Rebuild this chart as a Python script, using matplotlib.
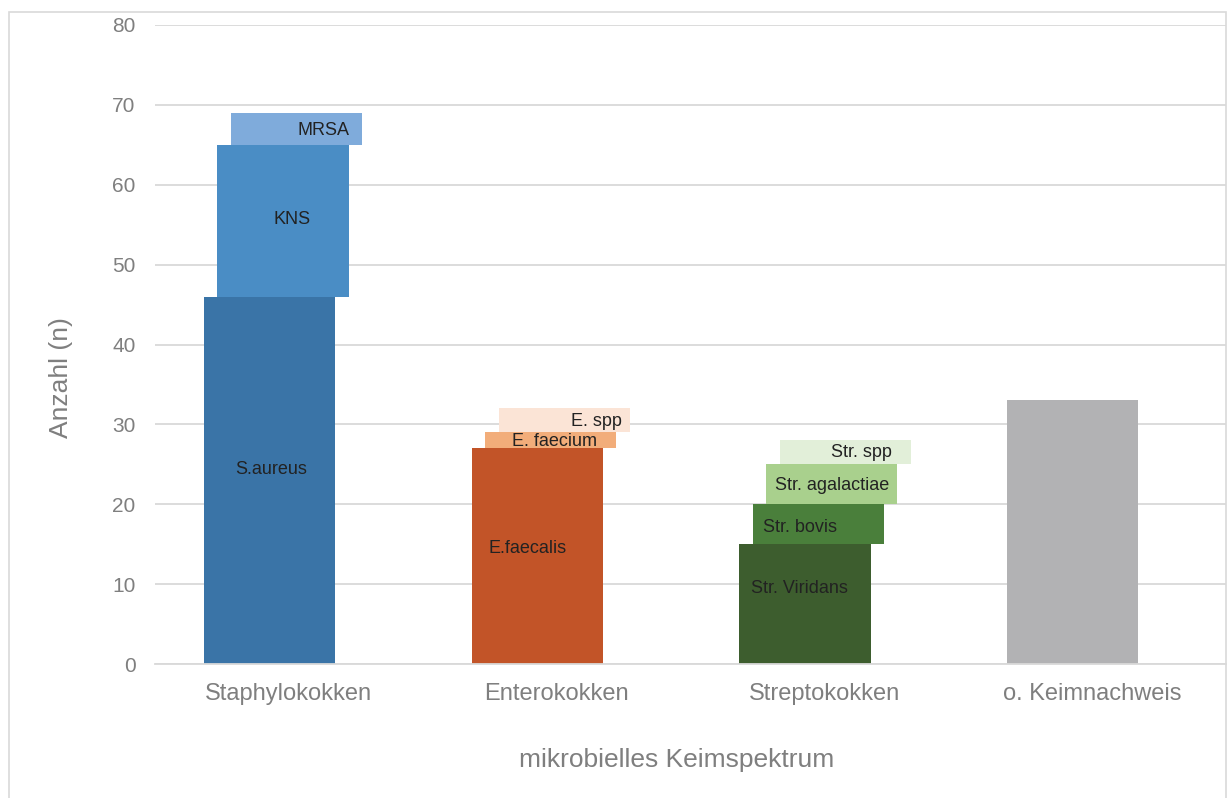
import numpy as np
import matplotlib.pyplot as plt
from matplotlib.patches import Rectangle

plt.rcParams['font.family'] = ['Liberation Sans', 'DejaVu Sans']

groups = ['Staphylokokken', 'Enterokokken', 'Streptokokken', 'o. Keimnachweis']

# sub-groups per category: (name, count)
staph = [('S.aureus', 46), ('KNS', 19), ('MRSA', 4)]
entero = [('E.faecalis', 27), ('E. faecium', 2), ('E. spp', 3)]
strep = [('Str. Viridans', 15), ('Str. bovis', 5), ('Str. agalactiae', 5), ('Str. spp', 3)]
keine = [('', 33)]

staph_colors = ['#3A74A7', '#4A8DC5', '#7FABDB']
entero_colors = ['#C25428', '#F2AD7A', '#FBE4D6']
strep_colors = ['#3D5D2E', '#4A7F3B', '#A9D08D', '#E2EFD9']
keine_colors = ['#B2B2B4']

# label nudges relative to the segment centre (x in category units, y in counts)
staph_lbl = [(0.005, 1.3), (0.035, 0.2), (0.1, -0.2)]
entero_lbl = [(-0.035, 1.0), (0.013, -0.1), (0.12, -0.1)]
strep_lbl = [(-0.02, 2.0), (-0.07, -0.4), (0.0, -0.1), (0.06, 0.0)]
keine_lbl = [(0.0, 0.0)]

fig = plt.figure(figsize=(12.28, 7.98), dpi=100)
fig.patches.append(Rectangle((9 / 1228, -0.01), 1217 / 1228, 1 - 12 / 798 + 0.01,
                             transform=fig.transFigure, fill=False,
                             edgecolor='#d9d9d9', linewidth=1.2))
ax = fig.add_axes([155 / 1228, 1 - 664 / 798, 1071 / 1228, 639 / 798])

width = 0.49
shift = 0.05
start = -0.072
for i, (segs, cols, lbl) in enumerate(zip([staph, entero, strep, keine],
                                          [staph_colors, entero_colors, strep_colors, keine_colors],
                                          [staph_lbl, entero_lbl, strep_lbl, keine_lbl])):
    bottom = 0
    for j, ((name, n), c, (dx, dy)) in enumerate(zip(segs, cols, lbl)):
        x = i + start + j * shift
        ax.bar(x, n, width=width, bottom=bottom, color=c, zorder=2)
        if name:
            ax.text(x + dx, bottom + n / 2 + dy, name, ha='center', va='center',
                    fontsize=13, color='#222222', zorder=3)
        bottom += n

ax.set_xlim(-0.5, 3.5)
ax.set_ylim(0, 80)
ax.set_yticks(np.arange(0, 81, 10))
ax.set_xticks(range(len(groups)))
ax.set_xticklabels(groups)
ax.yaxis.grid(True, color='#d9d9d9', linewidth=1.3, zorder=0)
ax.set_axisbelow(True)
for s in ['top', 'right', 'left']:
    ax.spines[s].set_visible(False)
ax.spines['bottom'].set_color('#d9d9d9')
ax.spines['bottom'].set_linewidth(1.3)
ax.tick_params(axis='both', length=0, colors='#7f7f7f')
ax.tick_params(axis='y', pad=14, labelsize=15)
ax.tick_params(axis='x', pad=14, labelsize=17)
ax.set_ylabel('Anzahl (n)', fontsize=19, color='#7f7f7f')
ax.set_xlabel('mikrobielles Keimspektrum', fontsize=19, color='#7f7f7f')
ax.yaxis.set_label_coords(-0.077, 0.449)
ax.xaxis.set_label_coords(0.4874, -0.131)

fig.savefig('out.png', dpi=100)
